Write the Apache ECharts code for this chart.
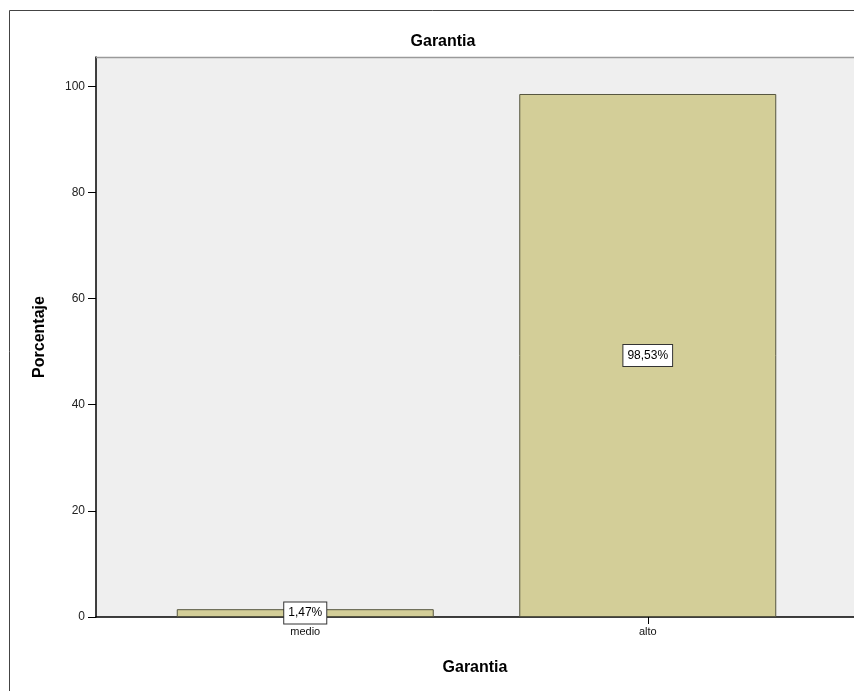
<!DOCTYPE html>
<html>
<head>
<meta charset="utf-8">
<script src="https://cdn.jsdelivr.net/npm/echarts@6/dist/echarts.min.js"></script>
<style>
html,body{margin:0;padding:0;background:#fff;overflow:hidden;}
#chart{width:854px;height:691px;}
</style>
</head>
<body>
<div id="chart"></div>
<script>
const categories = ['medio', 'alto'];
const percentValues = [1.47, 98.53];
const yTickValues = [0, 20, 40, 60, 80, 100];
const chartTitle = 'Garantia';
const xAxisTitle = 'Garantia';
const yAxisTitle = 'Porcentaje';

const FONT = '"Liberation Sans", Arial, sans-serif';
const chart = echarts.init(document.getElementById('chart'), null, {renderer: 'canvas'});
const yMax = 105.5;
const gridTop = 57, gridBottom = 74;

chart.setOption({
  backgroundColor: '#ffffff',
  animation: false,
  title: {
    text: chartTitle,
    left: 438, top: 29, textAlign: 'center',
    textStyle: {fontFamily: FONT, fontSize: 16, fontWeight: 'bold', color: '#000'}
  },
  graphic: [
    {type: 'polyline', silent: true, z: 100,
     shape: {points: [[9.5, 700], [9.5, 10.5], [1000, 10.5]]},
     style: {fill: 'none', stroke: '#444', lineWidth: 1}},
    {type: 'line', silent: true, z: 100,
     shape: {x1: 96, y1: 57.5, x2: 1000, y2: 57.5},
     style: {stroke: '#9a9a9a', lineWidth: 1.5}}
  ],
  grid: [
    {left: 96, right: -6, top: gridTop, bottom: gridBottom, show: true,
     backgroundColor: '#efefef', borderWidth: 0},
    {left: 134, width: 685, top: gridTop, bottom: gridBottom}
  ],
  xAxis: [
    {gridIndex: 0, type: 'value', min: 0, max: 1,
     axisLine: {show: true, lineStyle: {color: '#000', width: 1.5}},
     axisTick: {show: false}, axisLabel: {show: false}, splitLine: {show: false},
     name: xAxisTitle, nameLocation: 'middle', nameGap: 43,
     nameTextStyle: {fontFamily: FONT, fontSize: 16, fontWeight: 'bold', color: '#000'}},
    {gridIndex: 1, type: 'category', data: categories,
     axisLine: {show: false},
     axisTick: {show: true, alignWithLabel: true, length: 7, lineStyle: {color: '#000'}},
     axisLabel: {fontFamily: FONT, fontSize: 11, color: '#111', margin: 9}}
  ],
  yAxis: [
    {gridIndex: 0, type: 'value', min: 0, max: yMax,
     axisLine: {show: true, lineStyle: {color: '#000', width: 1.5}},
     axisTick: {show: true, inside: false, length: 8, customValues: yTickValues, lineStyle: {color: '#000'}},
     axisLabel: {customValues: yTickValues, fontFamily: FONT, fontSize: 12, color: '#222', margin: 11},
     splitLine: {show: false},
     name: yAxisTitle, nameLocation: 'middle', nameGap: 48,
     nameTextStyle: {fontFamily: FONT, fontSize: 16, fontWeight: 'bold', color: '#000'}},
    {gridIndex: 1, type: 'value', min: 0, max: yMax, show: false}
  ],
  series: [{
    type: 'bar', xAxisIndex: 1, yAxisIndex: 1,
    data: percentValues,
    barWidth: 257,
    itemStyle: {color: '#d3ce98', borderColor: '#55553f', borderWidth: 1},
    label: {
      show: true, position: 'inside',
      formatter: p => p.value.toFixed(2).replace('.', ',') + '%',
      fontFamily: FONT, fontSize: 12, color: '#000',
      backgroundColor: '#fff', borderColor: '#333', borderWidth: 1,
      padding: [5, 4, 4, 4]
    }
  }]
});
</script>
</body>
</html>
